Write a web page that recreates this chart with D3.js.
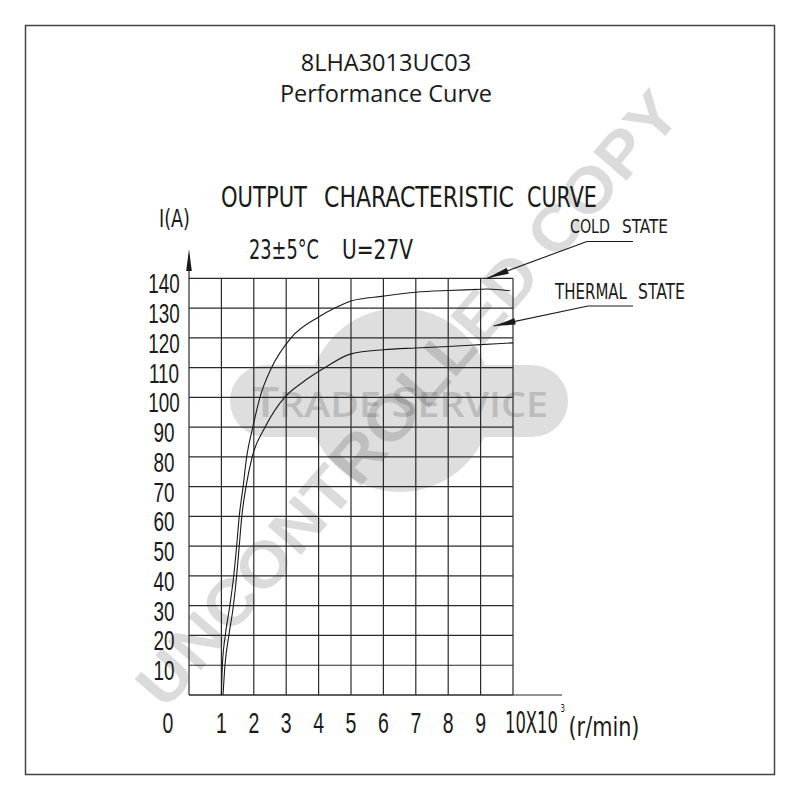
<!DOCTYPE html>
<html><head><meta charset="utf-8">
<script src="https://cdn.jsdelivr.net/npm/d3@7/dist/d3.min.js"></script>
<style>body{margin:0;background:#fff}</style>
</head><body>
<script>
// ---- data ----
const titleLines = ["8LHA3013UC03", "Performance Curve"];
const chartTitleWords = ["OUTPUT", "CHARACTERISTIC", "CURVE"];
const conditionWords = ["23±5°C", "U=27V"];
const yAxisLabel = "I(A)";
const xUnitLabel = ["10X10", "3", "(r/min)"];
const xTickValues = [0, 1, 2, 3, 4, 5, 6, 7, 8, 9];
const yTickValues = [10, 20, 30, 40, 50, 60, 70, 80, 90, 100, 110, 120, 130, 140];
const gridX = [0, 1, 2, 3, 4, 5, 6, 7, 8, 9, 10];
const gridY = [0, 10, 20, 30, 40, 50, 60, 70, 80, 90, 100, 110, 120, 130, 140];
const coldNameWords = ["COLD", "STATE"];
const thermalNameWords = ["THERMAL", "STATE"];
const coldRpm = [1.0, 1.03, 1.12, 1.26, 1.38, 1.47, 1.55, 1.67, 1.78, 1.97, 2.19, 2.55, 3.15, 4.0, 4.5, 5.0, 6.0, 7.0, 8.0, 9.0, 9.2, 9.9];
const coldAmp = [0, 10, 20, 30, 40, 50, 60, 70, 80, 90, 100, 110, 120, 127, 130, 132.4, 134, 135.3, 135.9, 136.3, 136.4, 135.8];
const thermalRpm = [1.05, 1.11, 1.23, 1.37, 1.47, 1.55, 1.63, 1.76, 1.95, 2.35, 2.95, 3.5, 4.2, 5.0, 6.0, 7.0, 8.0, 9.0, 10.0];
const thermalAmp = [0, 10, 20, 30, 40, 50, 60, 70, 80, 90, 100, 105, 110, 114.6, 116, 116.6, 117.1, 117.7, 118.3];
const watermarkMain = "UNCONTROLLED COPY";
const watermarkPill = [["T", 1], ["RADE ", 0.82], ["S", 1], ["ERVICE", 0.82]];

// ---- setup ----
const W = 800, H = 800;
const svg = d3.select("body").append("svg").attr("width", W).attr("height", H);
const narrow = "'Liberation Sans Narrow','DejaVu Sans Condensed','Liberation Sans',Arial,sans-serif";
const ink = "#1a1a1a";

const x = d3.scaleLinear().domain([0, 10]).range([189, 513]);
const y = d3.scaleLinear().domain([0, 140]).range([695, 278.3]);

// ---- watermark (behind) ----
const wm = svg.append("g");
wm.append("circle").attr("cx", 400).attr("cy", 400).attr("r", 92).attr("fill", "#dedede");
wm.append("rect").attr("x", 230).attr("y", 365).attr("width", 338).attr("height", 72).attr("rx", 36).attr("fill", "#dedede");
const pt = wm.append("text").attr("x", 252).attr("y", 417)
  .attr("font-family", "'Open Sans','Liberation Sans',sans-serif").attr("font-size", 42)
  .attr("font-weight", 600)
  .attr("fill", "#bcbcbc").attr("textLength", 296).attr("lengthAdjust", "spacingAndGlyphs");
watermarkPill.forEach(([s, f]) => pt.append("tspan").attr("font-size", 42 * f).text(s));
wm.append("text")
  .attr("transform", "translate(407,398) rotate(-49)")
  .attr("text-anchor", "middle").attr("dy", "0.36em")
  .attr("font-family", "'Liberation Sans',Arial,sans-serif").attr("font-weight", "bold")
  .attr("font-size", 64).attr("fill", "#000").attr("fill-opacity", 0.14)
  .attr("textLength", 790).attr("lengthAdjust", "spacingAndGlyphs")
  .text(watermarkMain);

// ---- frame ----
svg.append("rect").attr("x", 25.5).attr("y", 25.5).attr("width", 749).attr("height", 749)
  .attr("fill", "none").attr("stroke", "#444").attr("stroke-width", 1.5);

// ---- titles ----
titleLines.forEach((t, i) => {
  svg.append("text").attr("x", 386).attr("y", [71, 102][i]).attr("text-anchor", "middle")
    .attr("font-family", "'Open Sans','Noto Sans',sans-serif").attr("font-size", 23.5)
    .attr("fill", ink).text(t);
});

// narrow text: natural width measured, then squeezed horizontally with a transform
function ntext(str, x0, y0, size, len) {
  const t = svg.append("text").attr("x", 0).attr("y", 0).attr("font-family", narrow)
    .attr("font-size", size).attr("fill", ink).text(str);
  const nat = t.node().getComputedTextLength();
  const s = len / nat;
  t.attr("transform", `translate(${x0},${y0}) scale(${s},1)`);
  return t;
}
[[221, 86], [324, 190], [527, 70]].forEach(([x0, len], i) => ntext(chartTitleWords[i], x0, 207, 29, len));
ntext(yAxisLabel, 159, 227, 24, 31);
[[249, 70], [342, 71]].forEach(([x0, len], i) => ntext(conditionWords[i], x0, 259, 27, len));
[[570, 40], [622, 46]].forEach(([x0, len], i) => ntext(coldNameWords[i], x0, 233, 19, len));
[[555, 72], [638, 47]].forEach(([x0, len], i) => ntext(thermalNameWords[i], x0, 299, 20.5, len));

// ---- grid ----
const grid = svg.append("g").attr("stroke", "#2a2a2a").attr("stroke-width", 1.2);
grid.selectAll("line.v").data(gridX).join("line")
  .attr("x1", d => x(d)).attr("x2", d => x(d)).attr("y1", y(0)).attr("y2", y(140));
grid.selectAll("line.h").data(gridY).join("line")
  .attr("x1", x(0)).attr("x2", x(10)).attr("y1", d => y(d)).attr("y2", d => y(d));
svg.append("line").attr("x1", x(0)).attr("x2", 562).attr("y1", y(0)).attr("y2", y(0))
  .attr("stroke", "#2a2a2a").attr("stroke-width", 1.2);
svg.append("line").attr("x1", x(0)).attr("x2", x(0)).attr("y1", y(140)).attr("y2", 255)
  .attr("stroke", "#2a2a2a").attr("stroke-width", 1.2);
svg.append("path").attr("d", `M${x(0)},249 L${x(0) - 2.8},271 L${x(0) + 2.8},271 Z`).attr("fill", ink);

// ---- tick labels ----
svg.append("g").selectAll("text").data(yTickValues).join("text")
  .attr("transform", d => `translate(164,${y(d) + 15}) scale(0.7,1)`)
  .attr("text-anchor", "middle").attr("font-family", "'Liberation Sans',Arial,sans-serif")
  .attr("font-size", 27).attr("fill", ink).text(d => d);
svg.append("g").selectAll("text").data(xTickValues).join("text")
  .attr("transform", d => `translate(${d === 0 ? 168 : x(d)},733) scale(0.66,1)`)
  .attr("text-anchor", "middle").attr("font-family", "'Liberation Sans',Arial,sans-serif")
  .attr("font-size", 29.5).attr("fill", ink).text(d => d);
ntext(xUnitLabel[0], 505, 733, 29.5, 53);
ntext(xUnitLabel[1], 560.5, 712, 10, 4.5);
ntext(xUnitLabel[2], 568.5, 736, 27, 71);

// ---- curves ----
const line = d3.line().x(d => x(d[0])).y(d => y(d[1])).curve(d3.curveMonotoneX);
const coldData = coldRpm.map((r, i) => [r, coldAmp[i]]);
const thermalData = thermalRpm.map((r, i) => [r, thermalAmp[i]]);
[coldData, thermalData].forEach(dat => {
  svg.append("path").datum(dat).attr("d", line).attr("fill", "none")
    .attr("stroke", "#1a1a1a").attr("stroke-width", 1.1);
});

// ---- leaders with arrowheads ----
function leader(tx, ty, bx, by, ex) {
  svg.append("line").attr("x1", bx).attr("y1", by).attr("x2", ex).attr("y2", by)
    .attr("stroke", ink).attr("stroke-width", 1.1);
  svg.append("line").attr("x1", bx).attr("y1", by).attr("x2", tx).attr("y2", ty)
    .attr("stroke", ink).attr("stroke-width", 1.1);
  const dx = bx - tx, dy = by - ty, L = Math.hypot(dx, dy);
  const ux = dx / L, uy = dy / L, len = 22, hw = 3.2;
  const cx = tx + ux * len, cy = ty + uy * len;
  svg.append("path").attr("d",
    `M${tx},${ty} L${cx - uy * hw},${cy + ux * hw} L${cx + uy * hw},${cy - ux * hw} Z`).attr("fill", ink);
}
leader(x(9.2), y(140), 587, 241.5, 633);
leader(x(9.4), y(124), 588, 306, 633);
</script>
</body></html>
